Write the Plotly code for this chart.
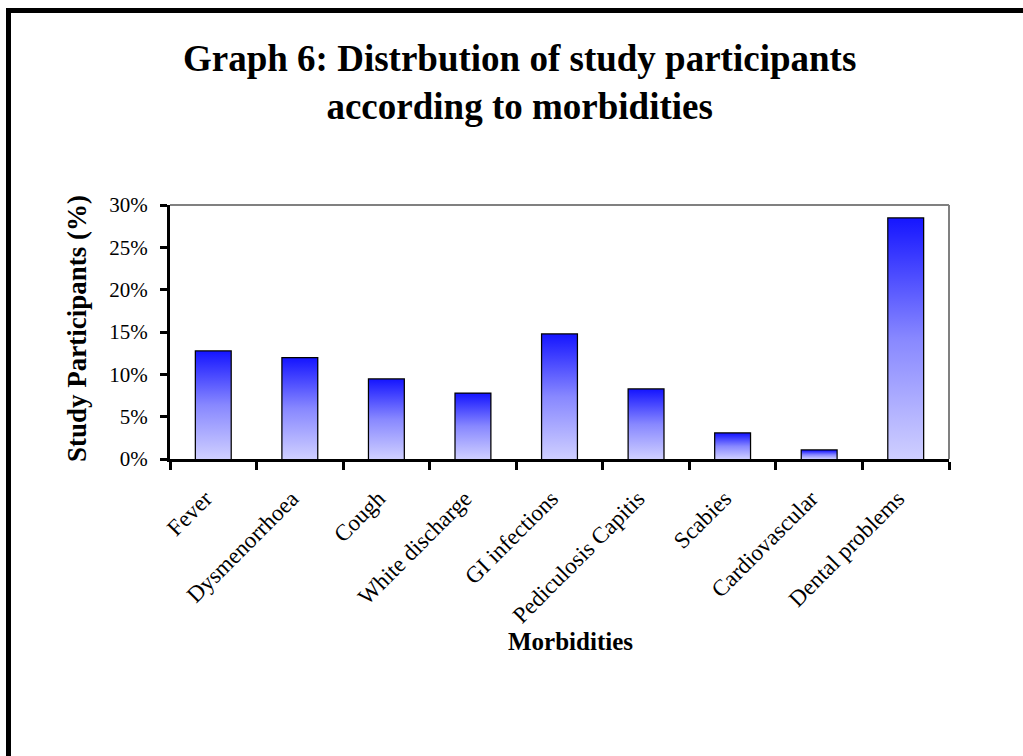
import plotly.graph_objects as go

# Morbidity categories and share of study participants (%)
categories = ["Fever", "Dysmenorrhoea", "Cough", "White discharge", "GI infections",
              "Pediculosis Capitis", "Scabies", "Cardiovascular", "Dental problems"]
participants_pct = [12.7, 11.9, 9.4, 7.7, 14.7, 8.2, 3.0, 1.0, 28.4]
y_ticks = [0, 5, 10, 15, 20, 25, 30]
y_tick_labels = [f"{v}%" for v in y_ticks]

W, H = 1023, 756
L, R, T, B = 170, 74, 205, 297
PW, PH = W - L - R, H - T - B
BAR_W = 0.4
FONT = "Liberation Serif, Times New Roman, serif"
GRADIENT = [[0.0, "#cfcfff"], [0.5, "#8888ff"], [1.0, "#1616ff"]]


def px_x(px):
    return (px - L) / PW


def px_y(py):
    return (H - B - py) / PH


fig = go.Figure()

# gradient fill of each column
for i, v in enumerate(participants_pct):
    fig.add_trace(go.Scatter(
        x=[i - BAR_W / 2, i + BAR_W / 2, i + BAR_W / 2, i - BAR_W / 2, i - BAR_W / 2],
        y=[0, 0, v, v, 0],
        mode="lines", fill="toself",
        fillgradient=dict(type="vertical", colorscale=GRADIENT),
        line=dict(width=0, color="rgba(0,0,0,0)"),
        hoverinfo="skip", showlegend=False,
    ))

# column outlines
fig.add_trace(go.Bar(
    x=list(range(len(categories))), y=participants_pct, width=BAR_W,
    marker=dict(color="rgba(0,0,0,0)", line=dict(color="black", width=2.5)),
    showlegend=False, customdata=categories,
    hovertemplate="%{customdata}: %{y}%<extra></extra>",
))

fig.update_xaxes(
    range=[-0.5, len(categories) - 0.5], showgrid=False, zeroline=False,
    tickmode="array", tickvals=list(range(len(categories))), ticktext=categories,
    tickangle=-45, ticks="", tickfont=dict(family=FONT, size=23, color="black"),
    ticklabelstandoff=14, ticklabelshift=-8,
    showline=True, linecolor="black", linewidth=3,
    minor=dict(tickmode="linear", tick0=-0.5, dtick=1, ticks="outside",
               ticklen=8, tickwidth=2.5, tickcolor="black", showgrid=False),
)
fig.update_yaxes(
    range=[0, 30], tickmode="array", tickvals=y_ticks, ticktext=y_tick_labels,
    showgrid=False, zeroline=False,
    ticks="outside", ticklen=7, tickwidth=2.5, tickcolor="black",
    tickfont=dict(family=FONT, size=21, color="black"),
    showline=True, linecolor="black", linewidth=3, ticklabelstandoff=8,
)

shapes = [
    # grey top and right edges of the plot area
    dict(type="line", xref="paper", yref="paper", x0=0, x1=1, y0=1, y1=1,
         line=dict(color="#808080", width=2)),
    dict(type="line", xref="paper", yref="paper", x0=1, x1=1, y0=0, y1=1,
         line=dict(color="#808080", width=2)),
    # outer chart frame
    dict(type="line", xref="paper", yref="paper", x0=px_x(8.5), x1=px_x(8.5),
         y0=px_y(8), y1=px_y(H + 10), line=dict(color="black", width=5)),
    dict(type="line", xref="paper", yref="paper", x0=px_x(6), x1=px_x(W + 10),
         y0=px_y(10.5), y1=px_y(10.5), line=dict(color="black", width=5)),
]

annotations = [
    dict(text="<b>Graph 6: Distrbution of study participants<br>according to morbidities</b>",
         xref="paper", yref="paper", x=px_x(519), y=px_y(82), xanchor="center", yanchor="middle",
         showarrow=False, font=dict(family=FONT, size=37, color="black")),
    dict(text="<b>Study Participants (%)</b>", textangle=-90,
         xref="paper", yref="paper", x=px_x(77), y=px_y(329), xanchor="center", yanchor="middle",
         showarrow=False, font=dict(family=FONT, size=27, color="black")),
    dict(text="<b>Morbidities</b>",
         xref="paper", yref="paper", x=px_x(570), y=px_y(641), xanchor="center", yanchor="middle",
         showarrow=False, font=dict(family=FONT, size=25, color="black")),
]

fig.update_layout(
    width=W, height=H, margin=dict(l=L, r=R, t=T, b=B, autoexpand=False),
    paper_bgcolor="white", plot_bgcolor="white",
    shapes=shapes, annotations=annotations, showlegend=False,
)

fig.write_html("out.html")
